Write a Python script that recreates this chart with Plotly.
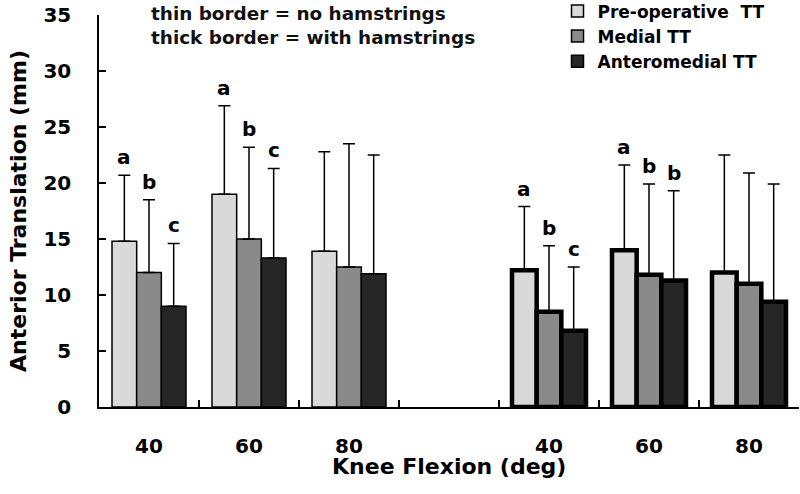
import plotly.graph_objects as go

# ---- data ----
flexion_labels = ["40", "60", "80"]
series_names = ["Pre-operative  TT", "Medial TT", "Anteromedial TT"]

# thin border = no hamstrings
pre_thin = [14.8, 19.0, 13.9]
pre_thin_err = [5.9, 7.9, 8.9]
med_thin = [12.0, 15.0, 12.5]
med_thin_err = [6.5, 8.2, 11.0]
ant_thin = [9.0, 13.3, 11.9]
ant_thin_err = [5.6, 8.0, 10.6]

# thick border = with hamstrings
pre_thick = [12.2, 14.0, 12.0]
pre_thick_err = [5.7, 7.6, 10.5]
med_thick = [8.5, 11.8, 11.0]
med_thick_err = [5.9, 8.1, 9.9]
ant_thick = [6.8, 11.3, 9.4]
ant_thick_err = [5.7, 8.0, 10.5]

letters_pre_thin = ["a", "a", ""]
letters_med_thin = ["b", "b", ""]
letters_ant_thin = ["c", "c", ""]
letters_pre_thick = ["a", "a", ""]
letters_med_thick = ["b", "b", ""]
letters_ant_thick = ["c", "b", ""]

# ---- styling ----
colors = ["#d9d9d9", "#8a8a8a", "#262626"]
FONT = "DejaVu Sans, Liberation Sans, Arial, sans-serif"

cats_thin = ["n" + c for c in flexion_labels]
cats_thick = ["h" + c for c in flexion_labels]
gap_cat = "gap"
all_cats = cats_thin + [gap_cat] + cats_thick
all_text = flexion_labels + [""] + flexion_labels

thin_vals = [pre_thin, med_thin, ant_thin]
thin_errs = [pre_thin_err, med_thin_err, ant_thin_err]
thick_vals = [pre_thick, med_thick, ant_thick]
thick_errs = [pre_thick_err, med_thick_err, ant_thick_err]
thin_letters = [letters_pre_thin, letters_med_thin, letters_ant_thin]
thick_letters = [letters_pre_thick, letters_med_thick, letters_ant_thick]

W, H = 800, 494
ML, MR, MT, MB = 99, 1, 15, 87
PW, PH = W - ML - MR, H - MT - MB
BARGAP = 0.26
cat_px = PW / len(all_cats)
bar_px = cat_px * (1 - BARGAP) / 3

fig = go.Figure()
annotations = []
for i in range(3):
    for cats, vals, errs, lw, show, lets in [
        (cats_thin, thin_vals[i], thin_errs[i], 1.5, True, thin_letters[i]),
        (cats_thick, thick_vals[i], thick_errs[i], 4.5, False, thick_letters[i]),
    ]:
        fig.add_trace(go.Bar(
            x=cats, y=vals, name=series_names[i], offsetgroup=str(i),
            showlegend=show, legendgroup=str(i),
            marker=dict(color=colors[i], line=dict(color="black", width=lw)),
            error_y=dict(type="data", array=errs, arrayminus=[0] * len(errs),
                         symmetric=False, color="black", thickness=1.5, width=6),
        ))
        for c, v, e, t in zip(cats, vals, errs, lets):
            if t:
                annotations.append(dict(
                    x=all_cats.index(c), y=v + e, xref="x", yref="y", text=t,
                    showarrow=False, xshift=(i - 1) * bar_px, yshift=18,
                    yanchor="middle",
                    font=dict(family=FONT, size=20, color="black", weight="bold"),
                ))

annotations.append(dict(
    x=(149 - ML) / PW, y=1.035, xref="paper", yref="paper",
    xanchor="left", yanchor="top", align="left", showarrow=False,
    text="thin border = no hamstrings<br>thick border = with hamstrings",
    font=dict(family=FONT, size=18.4, color="#111111", weight="bold"),
))
annotations.append(dict(
    x=0.5, y=-59 / PH, xref="paper", yref="paper",
    xanchor="center", yanchor="middle", showarrow=False,
    text="Knee Flexion (deg)",
    font=dict(family=FONT, size=22, color="black", weight="bold"),
))
annotations.append(dict(
    x=(18 - ML) / PW, y=0.5, xref="paper", yref="paper",
    xanchor="center", yanchor="middle", showarrow=False, textangle=-90,
    text="Anterior Translation (mm)",
    font=dict(family=FONT, size=22, color="black", weight="bold"),
))

fig.update_layout(
    width=W, height=H,
    margin=dict(l=ML, r=MR, t=MT, b=MB, autoexpand=False),
    paper_bgcolor="white", plot_bgcolor="white",
    barmode="group", bargap=BARGAP, bargroupgap=0,
    font=dict(family=FONT, color="black"),
    legend=dict(x=0.655, y=1.055, xanchor="left", yanchor="top",
                font=dict(family=FONT, size=17, weight="bold"),
                bgcolor="rgba(0,0,0,0)", tracegroupgap=0, itemwidth=30),
    annotations=annotations,
    xaxis=dict(
        type="category", categoryorder="array", categoryarray=all_cats,
        tickmode="array", tickvals=all_cats, ticktext=all_text,
        tickson="boundaries", ticks="inside", ticklen=7, tickwidth=1.5,
        tickcolor="black", showline=True, linecolor="black", linewidth=1.5,
        range=[-0.5, len(all_cats) - 0.5], showgrid=False, automargin=False,
        tickfont=dict(family=FONT, size=20, weight="bold"),
        ticklabelstandoff=20,
    ),
    yaxis=dict(
        range=[0, 35], tickvals=[0, 5, 10, 15, 20, 25, 30, 35],
        ticks="inside", ticklen=7, tickwidth=1.5, tickcolor="black",
        showline=True, linecolor="black", linewidth=1.5, showgrid=False,
        zeroline=False, automargin=False,
        tickfont=dict(family=FONT, size=20, weight="bold"),
        ticklabelstandoff=22,
    ),
)

fig.write_html("out.html", config={"displayModeBar": False},
               post_script="document.body.style.margin='0';")
